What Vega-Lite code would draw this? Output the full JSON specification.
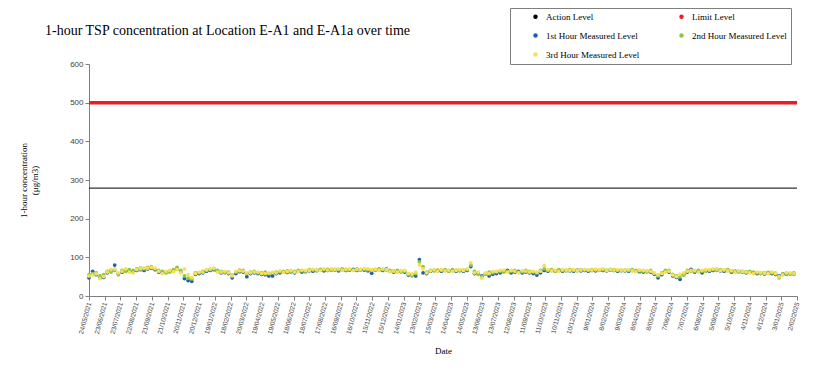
{
  "$schema": "https://vega.github.io/schema/vega-lite/v6.json",
  "width": 708,
  "height": 232,
  "autosize": {"type": "none"},
  "padding": {"left": 89, "top": 64, "right": 16, "bottom": 85},
  "background": "white",
  "title": {"text": "1-hour TSP concentration  at Location E-A1 and E-A1a over time", "anchor": "start", "frame": "group", "dx": -44, "dy": 30, "offset": 0, "font": "Liberation Serif", "fontSize": 14, "fontWeight": "normal", "color": "#000000"},
  "config": {"view": {"stroke": null}, "font": "Liberation Serif"},
  "datasets": {
    "levels": [
      {"series": "Action Level", "value": 279},
      {"series": "Limit Level", "value": 500}
    ],
    "names": [
      {"key": "h1", "series": "1st Hour Measured Level"},
      {"key": "h2", "series": "2nd Hour Measured Level"},
      {"key": "h3", "series": "3rd Hour Measured Level"}
    ],
    "tsp": [
      {"date":"2021-05-24","h1":47,"h2":55,"h3":52},
      {"date":"2021-05-31","h1":64,"h2":58,"h3":54},
      {"date":"2021-06-07","h1":55,"h2":60,"h3":57},
      {"date":"2021-06-14","h1":47,"h2":52,"h3":45},
      {"date":"2021-06-21","h1":48,"h2":55,"h3":50},
      {"date":"2021-06-28","h1":60,"h2":64,"h3":62},
      {"date":"2021-07-05","h1":66,"h2":62,"h3":68},
      {"date":"2021-07-12","h1":80,"h2":66,"h3":70},
      {"date":"2021-07-19","h1":58,"h2":55,"h3":60},
      {"date":"2021-07-26","h1":62,"h2":66,"h3":64},
      {"date":"2021-08-02","h1":67,"h2":64,"h3":70},
      {"date":"2021-08-09","h1":64,"h2":68,"h3":62},
      {"date":"2021-08-16","h1":63,"h2":66,"h3":60},
      {"date":"2021-08-23","h1":66,"h2":70,"h3":68},
      {"date":"2021-08-30","h1":68,"h2":72,"h3":70},
      {"date":"2021-09-06","h1":66,"h2":70,"h3":73},
      {"date":"2021-09-13","h1":70,"h2":74,"h3":72},
      {"date":"2021-09-20","h1":72,"h2":76,"h3":74},
      {"date":"2021-09-27","h1":68,"h2":70,"h3":72},
      {"date":"2021-10-04","h1":62,"h2":66,"h3":64},
      {"date":"2021-10-11","h1":60,"h2":64,"h3":58},
      {"date":"2021-10-18","h1":62,"h2":60,"h3":64},
      {"date":"2021-10-25","h1":64,"h2":62,"h3":66},
      {"date":"2021-11-01","h1":65,"h2":68,"h3":63},
      {"date":"2021-11-08","h1":70,"h2":74,"h3":68},
      {"date":"2021-11-15","h1":62,"h2":66,"h3":60},
      {"date":"2021-11-22","h1":45,"h2":52,"h3":70},
      {"date":"2021-11-29","h1":40,"h2":46,"h3":55},
      {"date":"2021-12-06","h1":38,"h2":44,"h3":48},
      {"date":"2021-12-13","h1":56,"h2":60,"h3":58},
      {"date":"2021-12-20","h1":58,"h2":60,"h3":62},
      {"date":"2021-12-27","h1":60,"h2":64,"h3":62},
      {"date":"2022-01-03","h1":64,"h2":66,"h3":68},
      {"date":"2022-01-10","h1":66,"h2":68,"h3":70},
      {"date":"2022-01-17","h1":68,"h2":70,"h3":72},
      {"date":"2022-01-24","h1":64,"h2":66,"h3":62},
      {"date":"2022-01-31","h1":60,"h2":64,"h3":62},
      {"date":"2022-02-07","h1":62,"h2":60,"h3":64},
      {"date":"2022-02-14","h1":58,"h2":62,"h3":60},
      {"date":"2022-02-21","h1":47,"h2":54,"h3":52},
      {"date":"2022-02-28","h1":58,"h2":62,"h3":64},
      {"date":"2022-03-07","h1":63,"h2":67,"h3":65},
      {"date":"2022-03-14","h1":62,"h2":66,"h3":64},
      {"date":"2022-03-21","h1":50,"h2":58,"h3":60},
      {"date":"2022-03-28","h1":58,"h2":62,"h3":60},
      {"date":"2022-04-04","h1":60,"h2":64,"h3":62},
      {"date":"2022-04-11","h1":58,"h2":60,"h3":62},
      {"date":"2022-04-18","h1":56,"h2":60,"h3":58},
      {"date":"2022-04-25","h1":55,"h2":62,"h3":58},
      {"date":"2022-05-02","h1":52,"h2":58,"h3":60},
      {"date":"2022-05-09","h1":52,"h2":60,"h3":62},
      {"date":"2022-05-16","h1":58,"h2":62,"h3":60},
      {"date":"2022-05-23","h1":60,"h2":63,"h3":65},
      {"date":"2022-05-30","h1":62,"h2":64,"h3":61},
      {"date":"2022-06-06","h1":61,"h2":65,"h3":63},
      {"date":"2022-06-13","h1":63,"h2":62,"h3":66},
      {"date":"2022-06-20","h1":60,"h2":64,"h3":62},
      {"date":"2022-06-27","h1":64,"h2":66,"h3":63},
      {"date":"2022-07-04","h1":62,"h2":65,"h3":67},
      {"date":"2022-07-11","h1":63,"h2":64,"h3":66},
      {"date":"2022-07-18","h1":65,"h2":68,"h3":66},
      {"date":"2022-07-25","h1":64,"h2":67,"h3":69},
      {"date":"2022-08-01","h1":66,"h2":65,"h3":68},
      {"date":"2022-08-08","h1":67,"h2":69,"h3":66},
      {"date":"2022-08-15","h1":65,"h2":68,"h3":70},
      {"date":"2022-08-22","h1":66,"h2":69,"h3":67},
      {"date":"2022-08-29","h1":68,"h2":66,"h3":70},
      {"date":"2022-09-05","h1":67,"h2":69,"h3":68},
      {"date":"2022-09-12","h1":65,"h2":68,"h3":70},
      {"date":"2022-09-19","h1":68,"h2":70,"h3":67},
      {"date":"2022-09-26","h1":66,"h2":69,"h3":68},
      {"date":"2022-10-03","h1":67,"h2":68,"h3":70},
      {"date":"2022-10-10","h1":69,"h2":67,"h3":66},
      {"date":"2022-10-17","h1":66,"h2":70,"h3":68},
      {"date":"2022-10-24","h1":68,"h2":67,"h3":69},
      {"date":"2022-10-31","h1":67,"h2":69,"h3":71},
      {"date":"2022-11-07","h1":65,"h2":68,"h3":70},
      {"date":"2022-11-14","h1":59,"h2":66,"h3":68},
      {"date":"2022-11-21","h1":67,"h2":69,"h3":68},
      {"date":"2022-11-28","h1":68,"h2":70,"h3":67},
      {"date":"2022-12-05","h1":66,"h2":68,"h3":70},
      {"date":"2022-12-12","h1":70,"h2":67,"h3":69},
      {"date":"2022-12-19","h1":64,"h2":66,"h3":63},
      {"date":"2022-12-26","h1":62,"h2":65,"h3":64},
      {"date":"2023-01-02","h1":63,"h2":66,"h3":62},
      {"date":"2023-01-09","h1":64,"h2":62,"h3":65},
      {"date":"2023-01-16","h1":62,"h2":64,"h3":66},
      {"date":"2023-01-23","h1":54,"h2":56,"h3":58},
      {"date":"2023-01-30","h1":55,"h2":52,"h3":57},
      {"date":"2023-02-06","h1":52,"h2":58,"h3":62},
      {"date":"2023-02-13","h1":94,"h2":88,"h3":80},
      {"date":"2023-02-20","h1":60,"h2":76,"h3":70},
      {"date":"2023-02-27","h1":58,"h2":62,"h3":60},
      {"date":"2023-03-06","h1":64,"h2":66,"h3":65},
      {"date":"2023-03-13","h1":66,"h2":65,"h3":68},
      {"date":"2023-03-20","h1":65,"h2":67,"h3":64},
      {"date":"2023-03-27","h1":64,"h2":66,"h3":68},
      {"date":"2023-04-03","h1":66,"h2":68,"h3":65},
      {"date":"2023-04-10","h1":65,"h2":64,"h3":67},
      {"date":"2023-04-17","h1":66,"h2":68,"h3":64},
      {"date":"2023-04-24","h1":64,"h2":67,"h3":66},
      {"date":"2023-05-01","h1":66,"h2":65,"h3":68},
      {"date":"2023-05-08","h1":64,"h2":67,"h3":66},
      {"date":"2023-05-15","h1":66,"h2":68,"h3":70},
      {"date":"2023-05-22","h1":76,"h2":80,"h3":86},
      {"date":"2023-05-29","h1":58,"h2":64,"h3":60},
      {"date":"2023-06-05","h1":58,"h2":56,"h3":62},
      {"date":"2023-06-12","h1":52,"h2":50,"h3":46},
      {"date":"2023-06-19","h1":58,"h2":56,"h3":60},
      {"date":"2023-06-26","h1":52,"h2":62,"h3":58},
      {"date":"2023-07-03","h1":56,"h2":60,"h3":64},
      {"date":"2023-07-10","h1":58,"h2":62,"h3":64},
      {"date":"2023-07-17","h1":60,"h2":64,"h3":66},
      {"date":"2023-07-24","h1":64,"h2":62,"h3":67},
      {"date":"2023-07-31","h1":66,"h2":64,"h3":62},
      {"date":"2023-08-07","h1":60,"h2":64,"h3":66},
      {"date":"2023-08-14","h1":62,"h2":66,"h3":64},
      {"date":"2023-08-21","h1":64,"h2":62,"h3":60},
      {"date":"2023-08-28","h1":60,"h2":63,"h3":65},
      {"date":"2023-09-04","h1":62,"h2":66,"h3":64},
      {"date":"2023-09-11","h1":60,"h2":64,"h3":62},
      {"date":"2023-09-18","h1":58,"h2":62,"h3":64},
      {"date":"2023-09-25","h1":54,"h2":60,"h3":62},
      {"date":"2023-10-02","h1":60,"h2":66,"h3":64},
      {"date":"2023-10-09","h1":66,"h2":70,"h3":79},
      {"date":"2023-10-16","h1":64,"h2":66,"h3":68},
      {"date":"2023-10-23","h1":66,"h2":68,"h3":65},
      {"date":"2023-10-30","h1":65,"h2":64,"h3":67},
      {"date":"2023-11-06","h1":66,"h2":68,"h3":64},
      {"date":"2023-11-13","h1":64,"h2":66,"h3":68},
      {"date":"2023-11-20","h1":66,"h2":65,"h3":67},
      {"date":"2023-11-27","h1":65,"h2":68,"h3":66},
      {"date":"2023-12-04","h1":64,"h2":66,"h3":68},
      {"date":"2023-12-11","h1":67,"h2":65,"h3":66},
      {"date":"2023-12-18","h1":65,"h2":68,"h3":67},
      {"date":"2023-12-25","h1":66,"h2":67,"h3":69},
      {"date":"2024-01-01","h1":64,"h2":66,"h3":68},
      {"date":"2024-01-08","h1":66,"h2":68,"h3":67},
      {"date":"2024-01-15","h1":65,"h2":67,"h3":69},
      {"date":"2024-01-22","h1":67,"h2":66,"h3":68},
      {"date":"2024-01-29","h1":66,"h2":68,"h3":70},
      {"date":"2024-02-05","h1":65,"h2":67,"h3":66},
      {"date":"2024-02-12","h1":67,"h2":69,"h3":68},
      {"date":"2024-02-19","h1":66,"h2":68,"h3":67},
      {"date":"2024-02-26","h1":64,"h2":66,"h3":68},
      {"date":"2024-03-04","h1":66,"h2":65,"h3":67},
      {"date":"2024-03-11","h1":65,"h2":67,"h3":66},
      {"date":"2024-03-18","h1":64,"h2":66,"h3":68},
      {"date":"2024-03-25","h1":66,"h2":68,"h3":65},
      {"date":"2024-04-01","h1":64,"h2":66,"h3":63},
      {"date":"2024-04-08","h1":63,"h2":65,"h3":67},
      {"date":"2024-04-15","h1":62,"h2":64,"h3":66},
      {"date":"2024-04-22","h1":64,"h2":62,"h3":65},
      {"date":"2024-04-29","h1":62,"h2":66,"h3":64},
      {"date":"2024-05-06","h1":56,"h2":58,"h3":60},
      {"date":"2024-05-13","h1":47,"h2":52,"h3":55},
      {"date":"2024-05-20","h1":55,"h2":60,"h3":58},
      {"date":"2024-05-27","h1":64,"h2":66,"h3":62},
      {"date":"2024-06-03","h1":62,"h2":66,"h3":64},
      {"date":"2024-06-10","h1":52,"h2":56,"h3":54},
      {"date":"2024-06-17","h1":48,"h2":52,"h3":50},
      {"date":"2024-06-24","h1":43,"h2":50,"h3":56},
      {"date":"2024-07-01","h1":56,"h2":54,"h3":60},
      {"date":"2024-07-08","h1":62,"h2":66,"h3":64},
      {"date":"2024-07-15","h1":69,"h2":64,"h3":66},
      {"date":"2024-07-22","h1":62,"h2":64,"h3":66},
      {"date":"2024-07-29","h1":64,"h2":66,"h3":62},
      {"date":"2024-08-05","h1":60,"h2":64,"h3":66},
      {"date":"2024-08-12","h1":66,"h2":64,"h3":68},
      {"date":"2024-08-19","h1":64,"h2":66,"h3":68},
      {"date":"2024-08-26","h1":66,"h2":68,"h3":70},
      {"date":"2024-09-02","h1":68,"h2":66,"h3":70},
      {"date":"2024-09-09","h1":65,"h2":68,"h3":66},
      {"date":"2024-09-16","h1":64,"h2":66,"h3":68},
      {"date":"2024-09-23","h1":66,"h2":68,"h3":65},
      {"date":"2024-09-30","h1":62,"h2":64,"h3":66},
      {"date":"2024-10-07","h1":63,"h2":65,"h3":62},
      {"date":"2024-10-14","h1":64,"h2":62,"h3":65},
      {"date":"2024-10-21","h1":62,"h2":64,"h3":63},
      {"date":"2024-10-28","h1":60,"h2":63,"h3":62},
      {"date":"2024-11-04","h1":62,"h2":64,"h3":60},
      {"date":"2024-11-11","h1":60,"h2":62,"h3":58},
      {"date":"2024-11-18","h1":58,"h2":60,"h3":62},
      {"date":"2024-11-25","h1":60,"h2":58,"h3":61},
      {"date":"2024-12-02","h1":57,"h2":60,"h3":59},
      {"date":"2024-12-09","h1":59,"h2":61,"h3":58},
      {"date":"2024-12-16","h1":58,"h2":60,"h3":62},
      {"date":"2024-12-23","h1":56,"h2":59,"h3":58},
      {"date":"2024-12-30","h1":52,"h2":47,"h3":50},
      {"date":"2025-01-06","h1":56,"h2":58,"h3":54},
      {"date":"2025-01-13","h1":57,"h2":59,"h3":60},
      {"date":"2025-01-20","h1":58,"h2":56,"h3":60},
      {"date":"2025-01-27","h1":57,"h2":60,"h3":58}
    ]
  },
  "encoding": {
    "y": {
      "field": "value",
      "type": "quantitative",
      "scale": {"domain": [0, 600], "nice": false, "zero": true},
      "axis": {
        "title": ["1-hour concentration", "(μg/m3)"],
        "titleFont": "Liberation Serif",
        "titleFontSize": 9,
        "titleFontWeight": "normal",
        "titleColor": "#000000",
        "titlePadding": 30,
        "values": [0, 100, 200, 300, 400, 500, 600],
        "grid": false,
        "labelFont": "Liberation Sans",
        "labelFontSize": 8,
        "labelColor": "#404040",
        "domainColor": "#7f7f7f",
        "tickColor": "#7f7f7f",
        "tickSize": 4
      }
    }
  },
  "layer": [
    {
      "data": {"name": "levels"},
      "mark": {"type": "rule"},
      "encoding": {
        "color": {
          "field": "series",
          "type": "nominal",
          "scale": {
            "domain": ["Action Level", "Limit Level", "1st Hour Measured Level", "2nd Hour Measured Level", "3rd Hour Measured Level"],
            "range": ["#000000", "#ee1c25", "#1f5faa", "#8dc63f", "#f6e05a"]
          }
        },
        "strokeWidth": {"condition": {"test": "datum.series === 'Limit Level'", "value": 3.5}, "value": 1}
      }
    },
    {
      "data": {"name": "tsp"},
      "transform": [
        {"fold": ["h1", "h2", "h3"], "as": ["key", "value"]},
        {"lookup": "key", "from": {"data": {"name": "names"}, "key": "key", "fields": ["series"]}}
      ],
      "mark": {"type": "point", "filled": true, "size": 14, "opacity": 1},
      "encoding": {
        "x": {
          "field": "date",
          "type": "temporal",
          "scale": {"type": "utc", "domain": [{"year": 2021, "month": 5, "date": 24, "utc": true}, {"year": 2025, "month": 2, "date": 2, "utc": true}], "nice": false},
          "axis": {
            "title": "Date",
            "titleFont": "Liberation Serif",
            "titleFontSize": 9,
            "titleFontWeight": "normal",
            "titleColor": "#000000",
            "titlePadding": 12,
            "format": "%-d/%m/%Y",
            "labelAngle": -75,
            "labelFont": "Liberation Sans",
            "labelFontSize": 6.5,
            "labelColor": "#404040",
            "labelOverlap": false,
            "labelFlush": false,
            "grid": false,
            "domainColor": "#7f7f7f",
            "tickColor": "#7f7f7f",
            "tickSize": 4,
            "values": [
              {"year":2021,"month":5,"date":24,"utc":true},
              {"year":2021,"month":6,"date":23,"utc":true},
              {"year":2021,"month":7,"date":23,"utc":true},
              {"year":2021,"month":8,"date":22,"utc":true},
              {"year":2021,"month":9,"date":21,"utc":true},
              {"year":2021,"month":10,"date":21,"utc":true},
              {"year":2021,"month":11,"date":20,"utc":true},
              {"year":2021,"month":12,"date":20,"utc":true},
              {"year":2022,"month":1,"date":19,"utc":true},
              {"year":2022,"month":2,"date":18,"utc":true},
              {"year":2022,"month":3,"date":20,"utc":true},
              {"year":2022,"month":4,"date":19,"utc":true},
              {"year":2022,"month":5,"date":19,"utc":true},
              {"year":2022,"month":6,"date":18,"utc":true},
              {"year":2022,"month":7,"date":18,"utc":true},
              {"year":2022,"month":8,"date":17,"utc":true},
              {"year":2022,"month":9,"date":16,"utc":true},
              {"year":2022,"month":10,"date":16,"utc":true},
              {"year":2022,"month":11,"date":15,"utc":true},
              {"year":2022,"month":12,"date":15,"utc":true},
              {"year":2023,"month":1,"date":14,"utc":true},
              {"year":2023,"month":2,"date":13,"utc":true},
              {"year":2023,"month":3,"date":15,"utc":true},
              {"year":2023,"month":4,"date":14,"utc":true},
              {"year":2023,"month":5,"date":14,"utc":true},
              {"year":2023,"month":6,"date":13,"utc":true},
              {"year":2023,"month":7,"date":13,"utc":true},
              {"year":2023,"month":8,"date":12,"utc":true},
              {"year":2023,"month":9,"date":11,"utc":true},
              {"year":2023,"month":10,"date":11,"utc":true},
              {"year":2023,"month":11,"date":10,"utc":true},
              {"year":2023,"month":12,"date":10,"utc":true},
              {"year":2024,"month":1,"date":9,"utc":true},
              {"year":2024,"month":2,"date":8,"utc":true},
              {"year":2024,"month":3,"date":9,"utc":true},
              {"year":2024,"month":4,"date":8,"utc":true},
              {"year":2024,"month":5,"date":8,"utc":true},
              {"year":2024,"month":6,"date":7,"utc":true},
              {"year":2024,"month":7,"date":7,"utc":true},
              {"year":2024,"month":8,"date":6,"utc":true},
              {"year":2024,"month":9,"date":5,"utc":true},
              {"year":2024,"month":10,"date":5,"utc":true},
              {"year":2024,"month":11,"date":4,"utc":true},
              {"year":2024,"month":12,"date":4,"utc":true},
              {"year":2025,"month":1,"date":3,"utc":true},
              {"year":2025,"month":2,"date":2,"utc":true}
            ]
          }
        },
        "color": {
          "field": "series",
          "type": "nominal",
          "scale": {
            "domain": ["Action Level", "Limit Level", "1st Hour Measured Level", "2nd Hour Measured Level", "3rd Hour Measured Level"],
            "range": ["#000000", "#ee1c25", "#1f5faa", "#8dc63f", "#f6e05a"]
          },
          "legend": {
            "title": null,
            "orient": "none",
            "legendX": 421,
            "legendY": -56,
            "direction": "horizontal",
            "columns": 2,
            "padding": 4,
            "strokeColor": "#7f7f7f",
            "fillColor": "#ffffff",
            "labelFont": "Liberation Serif",
            "labelFontSize": 9,
            "labelColor": "#000000",
            "labelLimit": 200,
            "labelOffset": 6,
            "symbolType": "circle",
            "symbolSize": 20,
            "symbolStrokeWidth": 0,
            "symbolOffset": 17,
            "columnPadding": 20,
            "rowPadding": 9
          }
        }
      }
    }
  ]
}
